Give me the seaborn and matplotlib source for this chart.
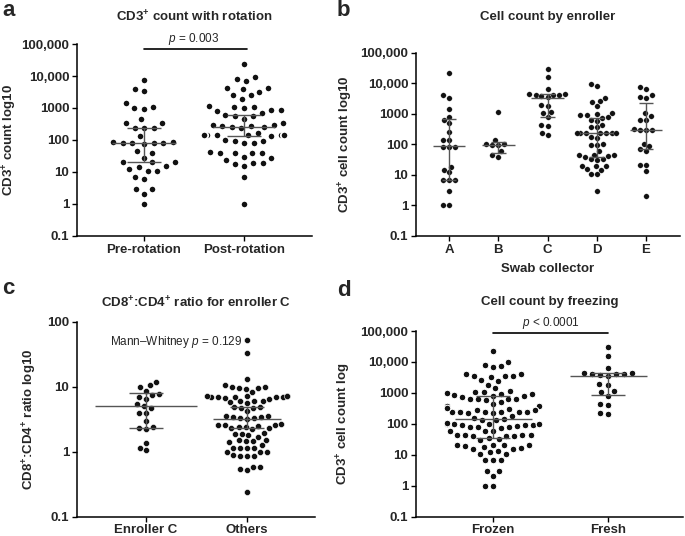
import numpy as np
import pandas as pd
import matplotlib
matplotlib.use("Agg")
import matplotlib.pyplot as plt
import seaborn as sns

# ---------------- data ----------------
# Panel a: CD3+ count with rotation
a_categories = ["Pre-rotation", "Post-rotation"]
pre_rotation = [7500, 3900, 3400, 1400, 900, 1100, 1000, 450, 330, 240, 240, 240, 350,
                135, 85, 80, 80, 85, 75, 80, 80, 45, 40, 28, 12, 15, 20, 20, 20, 14,
                11, 11, 6, 7, 3, 3, 2, 1]
post_rotation = [23000, 9500, 8100, 7100, 4300, 3800, 3200, 4100, 2500, 1900, 2500,
                 1100, 850, 850, 1000, 1100, 700, 1150, 800, 550, 550, 600, 450,
                 270, 250, 260, 330, 300, 290, 270, 230, 145, 140, 140, 160, 140, 130,
                 140, 140, 90, 80, 80, 90, 100, 40, 42, 40, 40, 40, 27, 24, 29, 18,
                 15, 19, 19, 7, 1]
a_median = [83, 260]
a_q1 = [20, 133]
a_q3 = [237, 606]

# Panel b: cell count by enroller
b_categories = ["A", "B", "C", "D", "E"]
enroller_A = [22000, 4000, 3400, 1400, 800, 650, 500, 250, 135, 135, 80, 80, 80, 15,
              18, 12, 7, 7, 7, 3, 1, 1]
enroller_B = [1150, 140, 100, 100, 95, 95, 60, 45, 40]
enroller_C = [30000, 16000, 6300, 4500, 4300, 4200, 4100, 4100, 3800, 3500, 1900, 1800,
              1150, 1100, 800, 430, 400, 230, 210]
enroller_D = [9800, 8100, 3300, 2600, 2400, 1800, 1100, 1000, 900, 900, 800, 750, 650,
              600, 440, 370, 380, 235, 240, 230, 235, 240, 230, 235, 175, 160, 100, 98,
              95, 60, 44, 42, 45, 40, 44, 34, 32, 30, 20, 20, 19, 16, 15, 11, 11, 3]
enroller_E = [7300, 6700, 4100, 3600, 3400, 1050, 850, 650, 650, 320, 290, 290, 300,
              105, 88, 72, 60, 21, 21, 13, 2]
b_median = [86, 98, 3400, 235, 288]
b_q1 = [7, 53, 790, 38, 68]
b_q3 = [690, 119, 4300, 750, 2300]

# Panel c: CD8+:CD4+ ratio
c_categories = ["Enroller C", "Others"]
ratio_enroller_C = [12, 10, 10.5, 7.7, 8.7, 7.5, 7, 6.5, 5.5, 5, 4.7, 4, 4, 3, 2.4,
                    2.2, 2.3, 1.35, 1.05, 1.15]
ratio_others = [53, 33, 13,
                10, 9.5, 9.5, 9.8, 10.5, 9.3, 8.4,
                7.2, 7, 7, 7, 7.2, 7, 6.8, 7.1, 7.2, 7, 6.5,
                6, 5.8, 5.6, 6, 6.1,
                4.7, 4.8, 4.9, 4.7, 4.2,
                3.5, 3.4, 3.3, 3.4, 3.5, 3.3, 3.2,
                2.6, 2.6, 2.6, 2.7, 2.5, 2.4, 2.3, 2.3, 2.2, 2.4,
                1.9, 1.95, 1.9, 1.8, 1.7,
                1.5, 1.4, 1.5, 1.45, 1.45, 1.25,
                1.15, 1.15, 1.15, 1.15,
                1.0, 1.0, 1.0,
                0.85, 0.87, 0.87, 0.9,
                0.59, 0.52, 0.55, 0.59,
                0.24]
c_median = [5.0, 3.15]
c_q1 = [2.3, 2.3]
c_q3 = [8.1, 4.8]

# Panel d: cell count by freezing (fresh = enroller C, frozen = the others)
d_categories = ["Frozen", "Fresh"]
frozen = enroller_A + enroller_B + enroller_D + enroller_E
fresh = list(enroller_C)
d_median = [143, 3500]
d_q1 = [36, 850]
d_q3 = [790, 4500]

count_ticks = [0.1, 1, 10, 100, 1000, 10000, 100000]
count_ticklabels = ["0.1", "1", "10", "100", "1000", "10,000", "100,000"]
ratio_ticks = [0.1, 1, 10, 100]
ratio_ticklabels = ["0.1", "1", "10", "100"]

# ---------------- style ----------------
sns.set_theme(style="ticks")
plt.rcParams["font.family"] = ["Liberation Sans", "DejaVu Sans"]
plt.rcParams["mathtext.fontset"] = "custom"
plt.rcParams["mathtext.rm"] = "Liberation Sans"
plt.rcParams["mathtext.it"] = "Liberation Sans:italic"
plt.rcParams["mathtext.bf"] = "Liberation Sans:bold"

W, H = 685, 536
DOT = "#111111"
LINE = "#555555"
FS = 9.5

fig = plt.figure(figsize=(W / 100, H / 100), dpi=100)


def add_axes(left, right, top, bottom):
    return fig.add_axes([left / W, 1 - bottom / H, (right - left) / W, (bottom - top) / H])


def panel(ax, cats, groups, med, q1, q3, size, lw, med_half, cap_half, xlim, ylim,
          ticks, ticklabels, ylabel, label_x):
    df = pd.DataFrame({
        "group": np.repeat(cats, [len(g) for g in groups]),
        "value": np.concatenate([np.asarray(g, float) for g in groups]),
    })
    sns.swarmplot(data=df, x="group", y="value", order=cats, ax=ax, color=DOT,
                  size=size, linewidth=lw, edgecolor="white", log_scale=True,
                  zorder=2, warn_thresh=1.0)
    for i, (m, lo, hi) in enumerate(zip(med, q1, q3)):
        mh = med_half[i]
        ax.hlines(m, i - mh, i + mh, color=LINE, lw=1.0, zorder=4)
        ax.hlines([lo, hi], i - cap_half, i + cap_half, color=LINE, lw=1.0, zorder=4)
        ax.vlines(i, lo, hi, color=LINE, lw=1.0, zorder=4)
    ax.set_xlim(*xlim)
    ax.set_ylim(*ylim)
    ax.set_yticks(ticks)
    ax.set_yticklabels(ticklabels)
    ax.minorticks_off()
    ax.set_xlabel("")
    ax.set_ylabel(ylabel, fontsize=FS, fontweight="bold")
    ax.yaxis.set_label_coords(label_x, 0.5)
    for s in ["top", "right"]:
        ax.spines[s].set_visible(False)
    for s in ["left", "bottom"]:
        ax.spines[s].set_linewidth(1.1)
        ax.spines[s].set_color("black")
    ax.tick_params(axis="both", direction="out", length=3.5, width=1.0, color="black",
                   labelsize=FS, pad=2)
    for t in ax.get_xticklabels() + ax.get_yticklabels():
        t.set_fontweight("bold")
    ax.set_facecolor("white")


def ftext(x, y, s, **kw):
    fig.text(x / W, 1 - y / H, s, **kw)


# ---------------- panel a ----------------
ax_a = add_axes(77, 312, 44, 236)
panel(ax_a, a_categories, [pre_rotation, post_rotation], a_median, a_q1, a_q3,
      size=5.3, lw=1.3, med_half=[0.32, 0.31], cap_half=0.17, xlim=(-0.67, 1.68),
      ylim=(0.1, 1e5), ticks=count_ticks, ticklabels=count_ticklabels,
      ylabel="CD3$^{\\mathbf{+}}$ count log10", label_x=-0.245)
ax_a.plot([0, 1.03], [7e4, 7e4], color="black", lw=1.2, clip_on=False)
ax_a.text(0.5, 1.45e5, "$p$ = 0.003", ha="center", va="center", fontsize=8.5,
          clip_on=False)
ftext(194, 17, "CD3$^{\\mathbf{+}}$ count with rotation", ha="center", va="center",
      fontsize=FS, fontweight="bold")
ftext(2, 10, "a", ha="left", va="center", fontsize=16, fontweight="bold")

# ---------------- panel b ----------------
ax_b = add_axes(416, 680, 52.7, 236)
panel(ax_b, b_categories, [enroller_A, enroller_B, enroller_C, enroller_D, enroller_E],
      b_median, b_q1, b_q3, size=4.0, lw=0.2, med_half=[0.33] * 5, cap_half=0.15,
      xlim=(-0.67, 4.69), ylim=(0.1, 1e5), ticks=count_ticks,
      ticklabels=count_ticklabels, ylabel="CD3$^{\\mathbf{+}}$ cell count log10",
      label_x=-0.23)
ax_b.set_xlabel("Swab collector", fontsize=FS, fontweight="bold", labelpad=5)
ftext(548, 17, "Cell count by enroller", ha="center", va="center", fontsize=FS,
      fontweight="bold")
ftext(337, 10, "b", ha="left", va="center", fontsize=16, fontweight="bold")

# ---------------- panel c ----------------
ax_c = add_axes(77, 315, 321.7, 516.7)
panel(ax_c, c_categories, [ratio_enroller_C, ratio_others], c_median, c_q1, c_q3,
      size=4.4, lw=0.4, med_half=[0.5, 0.335], cap_half=0.17, xlim=(-0.683, 1.673),
      ylim=(0.1, 100), ticks=ratio_ticks, ticklabels=ratio_ticklabels,
      ylabel="CD8$^{\\mathbf{+}}$:CD4$^{\\mathbf{+}}$ ratio log10", label_x=-0.16)
ax_c.text(-0.356, 48, "Mann\u2013Whitney $p$ = 0.129", ha="left", va="center",
          fontsize=8.5)
ftext(196, 303, "CD8$^{\\mathbf{+}}$:CD4$^{\\mathbf{+}}$ ratio for enroller C",
      ha="center", va="center", fontsize=FS, fontweight="bold")
ftext(2, 288, "c", ha="left", va="center", fontsize=16, fontweight="bold")

# ---------------- panel d ----------------
ax_d = add_axes(416, 683, 331, 516.7)
panel(ax_d, d_categories, [frozen, fresh], d_median, d_q1, d_q3,
      size=4.8, lw=0.8, med_half=[0.335, 0.335], cap_half=0.15, xlim=(-0.67, 1.652),
      ylim=(0.1, 1e5), ticks=count_ticks, ticklabels=count_ticklabels,
      ylabel="CD3$^{\\mathbf{+}}$ cell count log", label_x=-0.235)
ax_d.plot([0, 1], [8.6e4, 8.6e4], color="black", lw=1.2, clip_on=False)
ax_d.text(0.5, 1.8e5, "$p$ < 0.0001", ha="center", va="center", fontsize=8.5,
          clip_on=False)
ftext(550, 302, "Cell count by freezing", ha="center", va="center", fontsize=FS,
      fontweight="bold")
ftext(337, 290, "d", ha="left", va="center", fontsize=16, fontweight="bold")

fig.savefig("out.png", dpi=100, facecolor="white")
